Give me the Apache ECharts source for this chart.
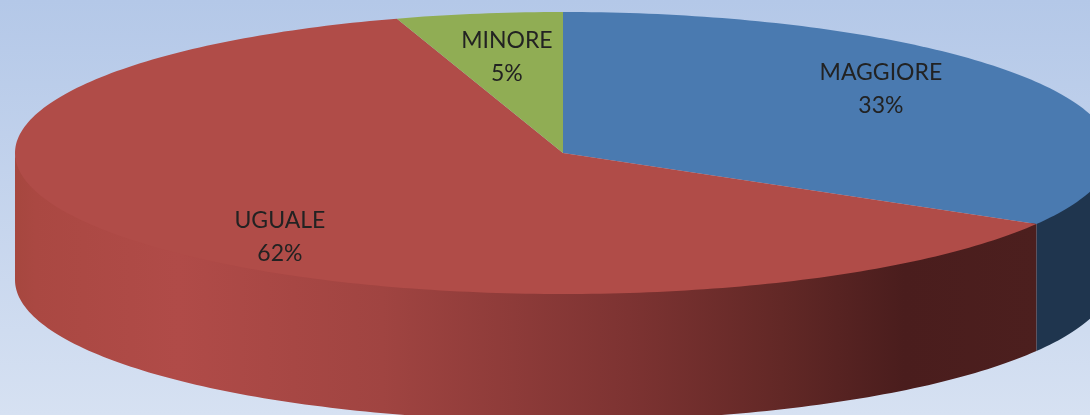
<!DOCTYPE html>
<html><head><meta charset="utf-8">
<style>html,body{margin:0;padding:0;background:#fff}#c{width:1090px;height:415px}</style>
<script src="https://cdn.jsdelivr.net/npm/echarts@6/dist/echarts.min.js"></script>
</head><body><div id="c"></div>
<script>
const categories = ['MAGGIORE', 'UGUALE', 'MINORE'];
const values = [33.4, 61.7, 4.9];
const topColors = ['#4a7ab0', '#b04c48', '#90ad54'];

const CX = 563, CY = 153, RX = 548, RY = 141, DEPTH = 127;
const total = values.reduce((a, b) => a + b, 0);
const labelAnchor = {MAGGIORE: [0.669, 0.904], UGUALE: [0.662, 0.953], MINORE: [0.668, 0.689]};
const sideFill = {
  MAGGIORE: '#1f354e',
  UGUALE: {type: 'linear', global: true, x: 15, y: 0, x2: 1037, y2: 0, colorStops: [
    {offset: 0, color: '#a6473f'}, {offset: 0.02, color: '#aa4842'}, {offset: 0.16, color: '#b04b48'},
    {offset: 0.36, color: '#a04441'}, {offset: 0.6, color: '#7d3332'}, {offset: 0.75, color: '#622826'},
    {offset: 0.87, color: '#4a1d1d'}, {offset: 1, color: '#4c1f1e'}
  ]}
};
const pt = (t, dy) => [CX + RX * Math.sin(t), CY - RY * Math.cos(t) + (dy || 0)];
const arc = (a, b, dy) => {
  const n = Math.max(2, Math.ceil((b - a) * 180 / Math.PI)), out = [];
  for (let i = 0; i <= n; i++) out.push(pt(a + (b - a) * i / n, dy));
  return out;
};

function renderItem(params, api) {
  const i = params.dataIndex, v = api.value(0), name = categories[i];
  let before = 0;
  for (let k = 0; k < i; k++) before += values[k];
  const a = before / total * 2 * Math.PI, b = (before + v) / total * 2 * Math.PI;
  const children = [];
  const sa = Math.max(a, Math.PI / 2), sb = Math.min(b, Math.PI * 1.5);
  if (sb > sa) {
    const upper = arc(sa, sb, -3), lower = arc(sa, sb, DEPTH).reverse();
    children.push({type: 'polygon', z2: 0, shape: {points: upper.concat(lower)},
      style: {fill: sideFill[name]}});
  }
  children.push({type: 'polygon', z2: 1, shape: {points: [[CX, CY]].concat(arc(a, b, 0))},
    style: {fill: topColors[i]}});
  const mid = (a + b) / 2, f = labelAnchor[name];
  children.push({type: 'text', z2: 10, style: {
    text: name + '\n' + Math.round(v) + '%',
    x: CX + RX * Math.sin(mid) * f[0], y: CY - RY * Math.cos(mid) * f[1],
    textAlign: 'center', textVerticalAlign: 'middle',
    fontFamily: 'Lato', fontSize: 23, lineHeight: 33, fill: '#222222'
  }});
  return {type: 'group', children};
}

const chart = echarts.init(document.getElementById('c'), null, {renderer: 'canvas'});
chart.setOption({
  animation: false,
  backgroundColor: {type: 'linear', x: 0, y: 0, x2: 0, y2: 1, colorStops: [
    {offset: 0, color: '#b4c8e8'}, {offset: 1, color: '#d6e1f2'}]},
  series: [{
    type: 'custom', coordinateSystem: 'none', renderItem, silent: true,
    data: values.map((v, i) => ({name: categories[i], value: [v]}))
  }]
});
</script></body></html>
